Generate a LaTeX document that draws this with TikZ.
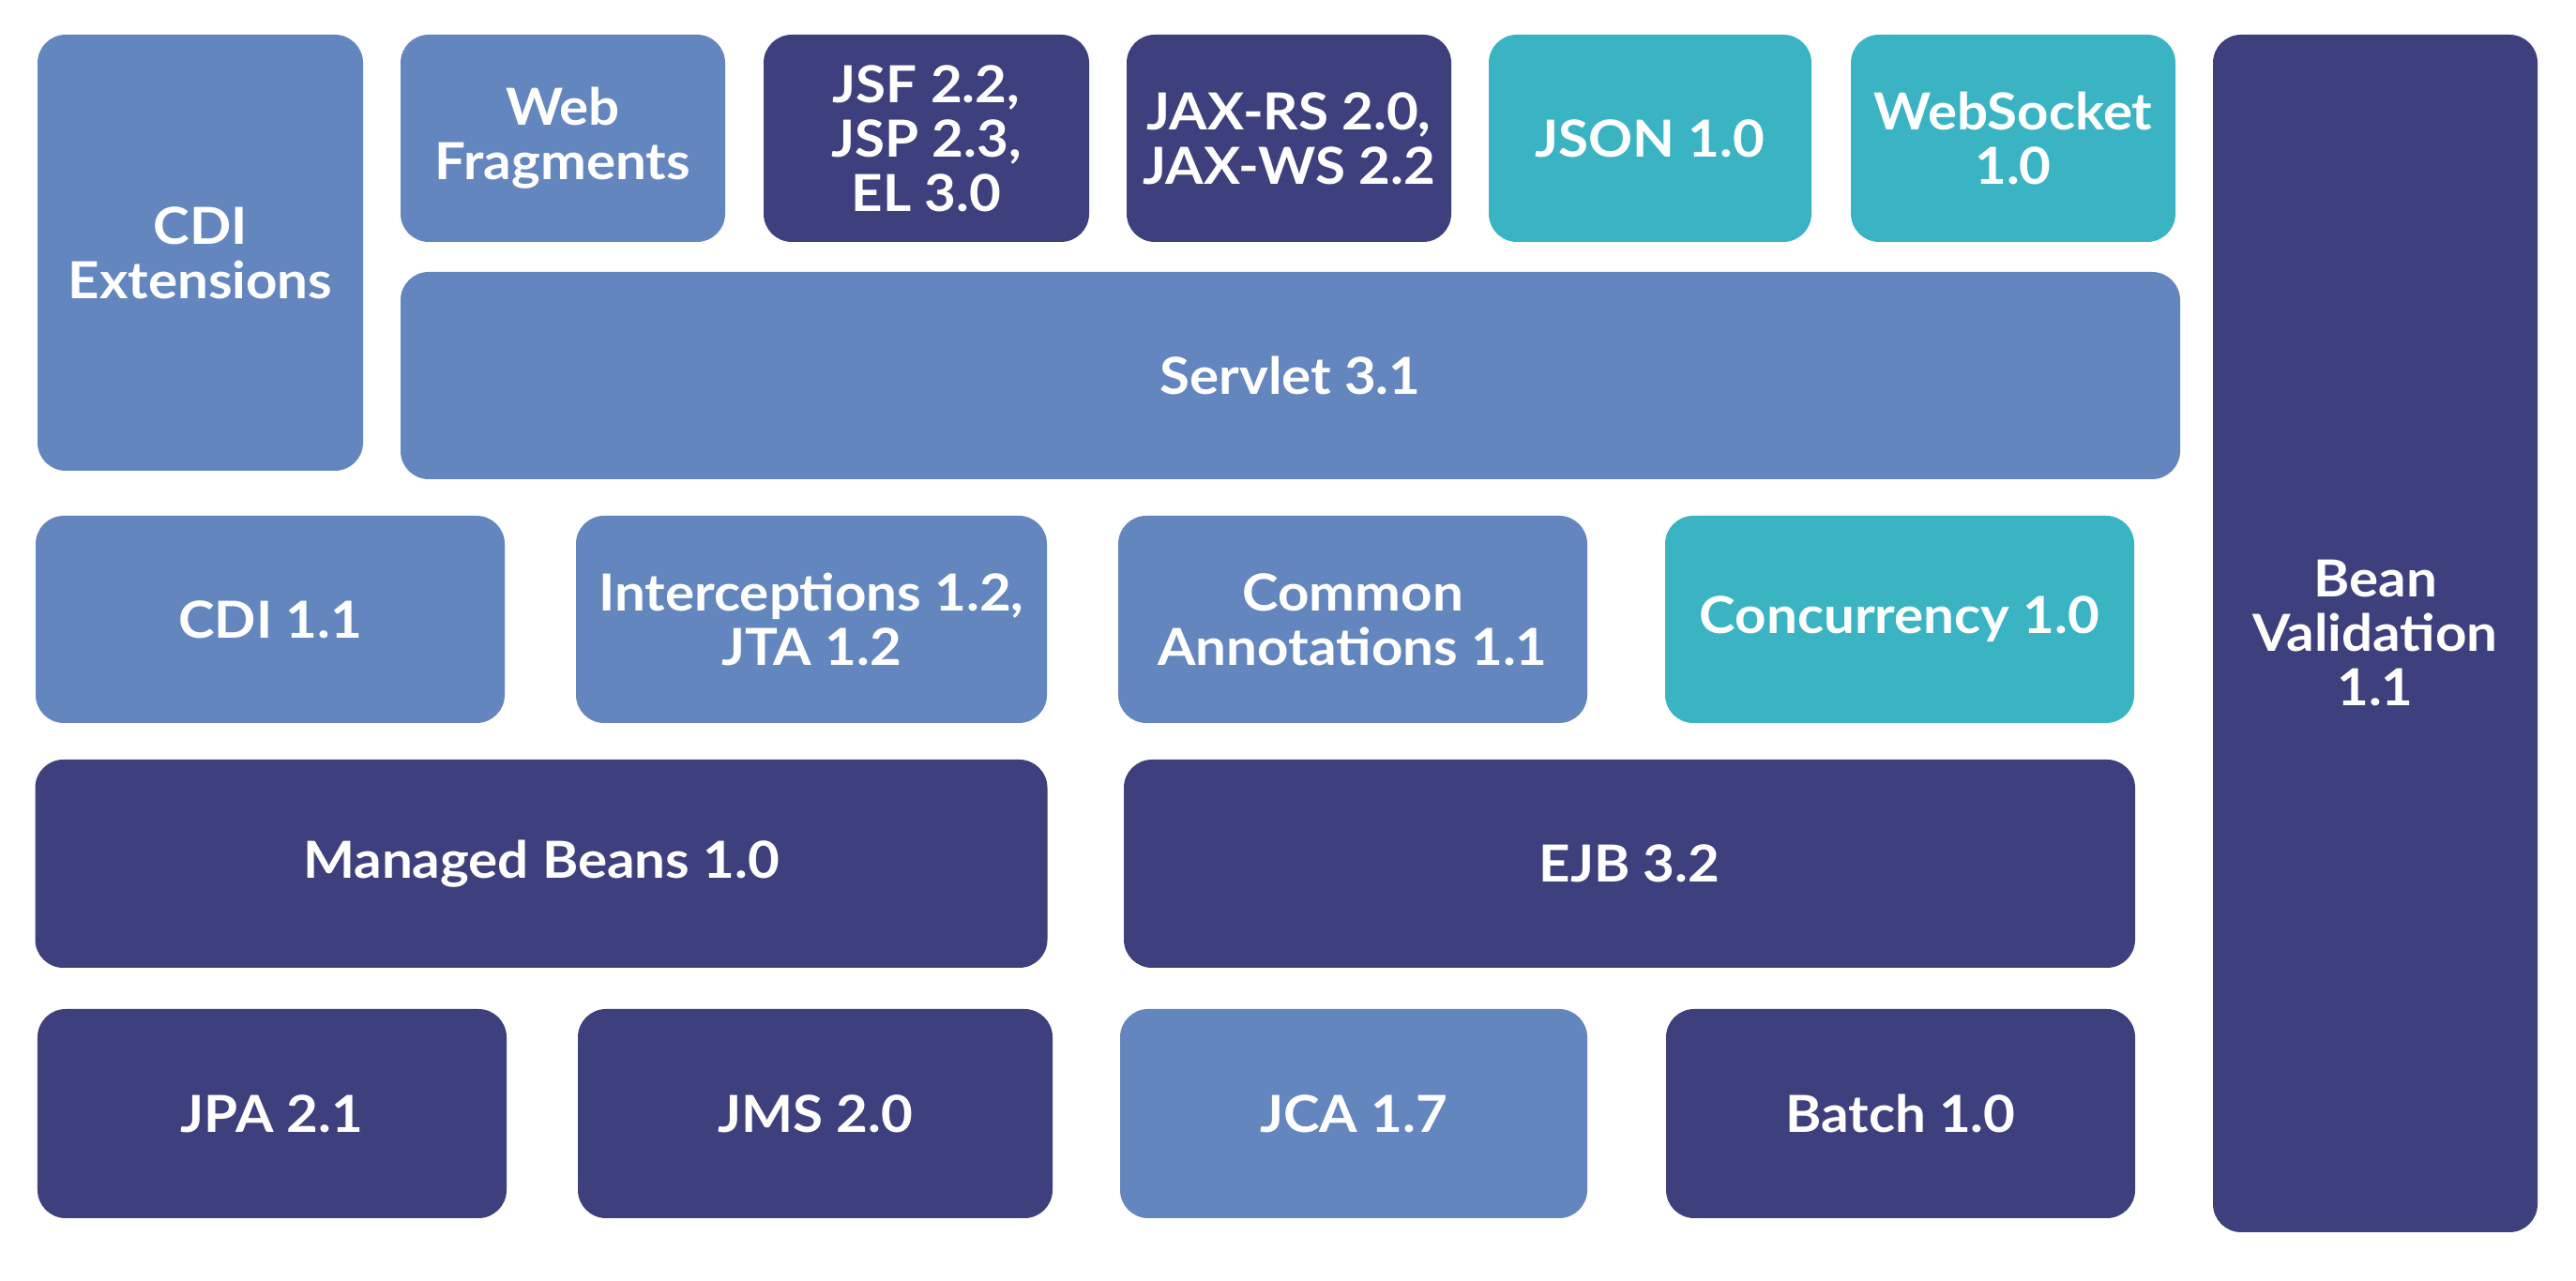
\documentclass[tikz,border=0pt]{standalone}
\usepackage{fontspec}
\setmainfont{Lato}[BoldFeatures={FakeStretch=1.07}]
\definecolor{lite}{RGB}{100,134,190}
\definecolor{navy}{RGB}{62,63,125}
\definecolor{teal}{RGB}{58,180,195}
\tikzset{
    box/.style={rounded corners=0.3cm, inner sep=0pt, align=center, text=white,
        font=\bfseries\fontsize{15.5}{16.5}\selectfont},
    litebox/.style={box, fill=lite},
    navybox/.style={box, fill=navy},
    tealbox/.style={box, fill=teal},
}
\begin{document}
\begin{tikzpicture}
        \useasboundingbox (0, 0) rectangle (27.46, 13.66);

        \node[litebox, minimum width=3.47cm, minimum height=4.65cm] (cdiext) at (2.135, 10.965) {CDI\\Extensions};
        \node[litebox, minimum width=3.46cm, minimum height=2.21cm] (webfrag) at (6.00, 12.185) {Web\\Fragments};
        \node[navybox, minimum width=3.47cm, minimum height=2.21cm] (jsf) at (9.875, 12.185) {JSF 2.2,\\JSP 2.3,\\EL 3.0};
        \node[navybox, minimum width=3.46cm, minimum height=2.21cm] (jaxrs) at (13.74, 12.185) {JAX-RS 2.0,\\JAX-WS 2.2};
        \node[tealbox, minimum width=3.44cm, minimum height=2.21cm] (json) at (17.59, 12.185) {JSON 1.0};
        \node[tealbox, minimum width=3.46cm, minimum height=2.21cm] (websocket) at (21.46, 12.185) {WebSocket\\1.0};
        \node[litebox, minimum width=18.97cm, minimum height=2.21cm] (servlet) at (13.755, 9.655) {Servlet 3.1};

        \node[navybox, minimum width=3.46cm, minimum height=12.77cm] (beanval) at (25.32, 6.905) {Bean\\Validation\\1.1};

        \node[litebox, minimum width=5.00cm, minimum height=2.21cm] (cdi) at (2.88, 7.055) {CDI 1.1};
        \node[litebox, minimum width=5.02cm, minimum height=2.21cm] (intercept) at (8.65, 7.055) {Interceptions 1.2,\\JTA 1.2};
        \node[litebox, minimum width=5.00cm, minimum height=2.21cm] (common) at (14.42, 7.055) {Common\\Annotations 1.1};
        \node[tealbox, minimum width=5.00cm, minimum height=2.21cm] (concur) at (20.25, 7.055) {Concurrency 1.0};

        \node[navybox, minimum width=10.79cm, minimum height=2.22cm] (managed) at (5.77, 4.45) {Managed Beans 1.0};
        \node[navybox, minimum width=10.78cm, minimum height=2.22cm] (ejb) at (17.37, 4.45) {EJB 3.2};

        \node[navybox, minimum width=5.00cm, minimum height=2.23cm] (jpa) at (2.90, 1.785) {JPA 2.1};
        \node[navybox, minimum width=5.06cm, minimum height=2.23cm] (jms) at (8.69, 1.785) {JMS 2.0};
        \node[litebox, minimum width=4.98cm, minimum height=2.23cm] (jca) at (14.43, 1.785) {JCA 1.7};
        \node[navybox, minimum width=5.00cm, minimum height=2.23cm] (batch) at (20.26, 1.785) {Batch 1.0};
    \end{tikzpicture}
\end{document}
